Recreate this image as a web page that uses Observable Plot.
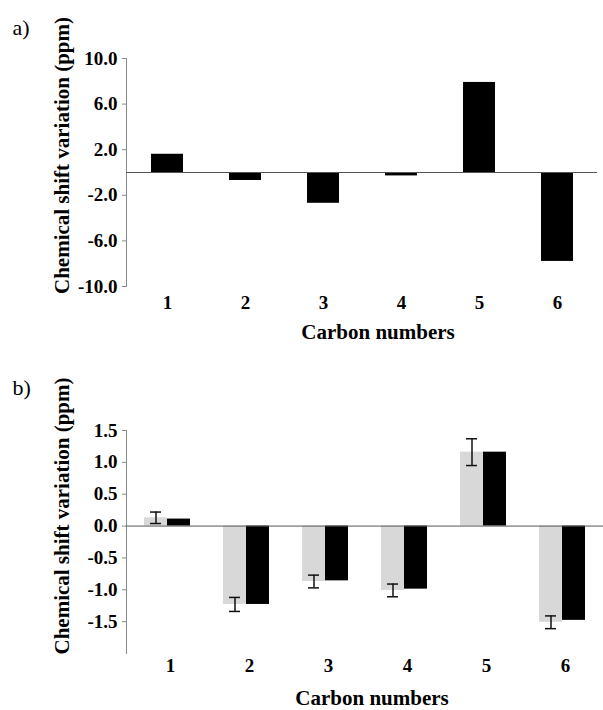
<!DOCTYPE html>
<html>
<head>
<meta charset="utf-8">
<script src="https://cdn.jsdelivr.net/npm/d3@7"></script>
<script src="https://cdn.jsdelivr.net/npm/@observablehq/plot@0.6"></script>
<style>
  html, body { margin: 0; padding: 0; background: #fff; }
  #chart svg { display: block; }
</style>
</head>
<body>
<div id="chart"></div>
<script>
// ---- data ----
const carbons = ["1", "2", "3", "4", "5", "6"];
const shiftA = [1.6, -0.7, -2.7, -0.3, 7.9, -7.8];
const shiftBGray = [0.13, -1.23, -0.87, -1.01, 1.16, -1.51];
const errBGray = [0.09, 0.11, 0.1, 0.1, 0.21, 0.1];
const shiftBBlack = [0.11, -1.23, -0.86, -0.99, 1.16, -1.48];
const ticksA = [-10, -6, -2, 2, 6, 10];
const ticksB = [-1.5, -1.0, -0.5, 0, 0.5, 1.0, 1.5];
const panelLabels = ["a)", "b)"];
const xTitle = "Carbon numbers";
const yTitle = "Chemical shift variation (ppm)";

const dataA = carbons.map((c, i) => ({carbon: c, value: shiftA[i]}));
const dataB = carbons.map((c, i) => ({
  carbon: c, gray: shiftBGray[i], err: errBGray[i], black: shiftBBlack[i]
}));

const font = {fontFamily: "Liberation Serif, 'Times New Roman', serif", fontWeight: "bold", background: "white", overflow: "visible"};

// ---- panel a ----
const plotA = Plot.plot({
  width: 603,
  height: 350,
  marginLeft: 126,
  marginRight: 6,
  marginTop: 58,
  marginBottom: 64,
  style: font,
  x: {domain: carbons, paddingInner: 0.59, paddingOuter: 0.295},
  y: {domain: [-10, 10]},
  marks: [
    Plot.frame({anchor: "left", stroke: "#8a8a8a"}),
    Plot.barY(dataA, {x: "carbon", y: "value", fill: "black"}),
    Plot.ruleY([0], {stroke: "#555", strokeWidth: 1}),
    Plot.axisY({ticks: ticksA, tickFormat: d => d.toFixed(1), tickSize: 4, tickPadding: 5, fontSize: 19, stroke: "#8a8a8a", label: null}),
    Plot.axisX({tickSize: 0, tickPadding: 9, fontSize: 19, label: null}),
    Plot.text([xTitle], {frameAnchor: "bottom", dx: 16, dy: 46, lineAnchor: "middle", fontSize: 21, fontWeight: "bold"}),
    Plot.text([yTitle], {frameAnchor: "left", rotate: -90, dx: -64, dy: -17, lineAnchor: "middle", textAnchor: "middle", fontSize: 21, fontWeight: "bold"}),
    Plot.text([panelLabels[0]], {frameAnchor: "top-left", dx: -114, dy: -31, textAnchor: "start", lineAnchor: "middle", fontSize: 22, fontWeight: "normal"})
  ]
});

// ---- panel b ----
const plotB = Plot.plot({
  width: 603,
  height: 360,
  marginLeft: 126,
  marginRight: 0,
  marginTop: 80,
  marginBottom: 57,
  style: font,
  x: {domain: carbons, paddingInner: 0.4214, paddingOuter: 0.2107},
  y: {domain: [-2, 1.5]},
  marks: [
    Plot.frame({anchor: "left", stroke: "#8a8a8a"}),
    Plot.barY(dataB, {x: "carbon", y: "gray", fill: "#d8d8d8", insetRight: 23}),
    Plot.barY(dataB, {x: "carbon", y: "black", fill: "black", insetLeft: 23}),
    Plot.ruleY([0], {stroke: "#555", strokeWidth: 1}),
    Plot.ruleX(dataB, {x: "carbon", y1: d => d.gray - d.err, y2: d => d.gray + d.err, dx: -11.5, stroke: "#111", strokeWidth: 1.5}),
    Plot.tickY(dataB, {x: "carbon", y: d => d.gray - d.err, insetLeft: 6, insetRight: 29, stroke: "#111", strokeWidth: 1.5}),
    Plot.tickY(dataB, {x: "carbon", y: d => d.gray + d.err, insetLeft: 6, insetRight: 29, stroke: "#111", strokeWidth: 1.5}),
    Plot.axisY({ticks: ticksB, tickFormat: d => d.toFixed(1), tickSize: 4, tickPadding: 5, fontSize: 19, stroke: "#8a8a8a", label: null}),
    Plot.axisX({tickSize: 0, tickPadding: 5, fontSize: 19, label: null, dx: 3}),
    Plot.text([xTitle], {frameAnchor: "bottom", dx: 7, dy: 45, lineAnchor: "middle", fontSize: 21, fontWeight: "bold"}),
    Plot.text([yTitle], {frameAnchor: "left", rotate: -90, dx: -64, dy: -26, lineAnchor: "middle", textAnchor: "middle", fontSize: 21, fontWeight: "bold"}),
    Plot.text([panelLabels[1]], {frameAnchor: "top-left", dx: -114, dy: -43, textAnchor: "start", lineAnchor: "middle", fontSize: 22, fontWeight: "normal"})
  ]
});

const root = document.getElementById("chart");
root.appendChild(plotA);
root.appendChild(plotB);
</script>
</body>
</html>
